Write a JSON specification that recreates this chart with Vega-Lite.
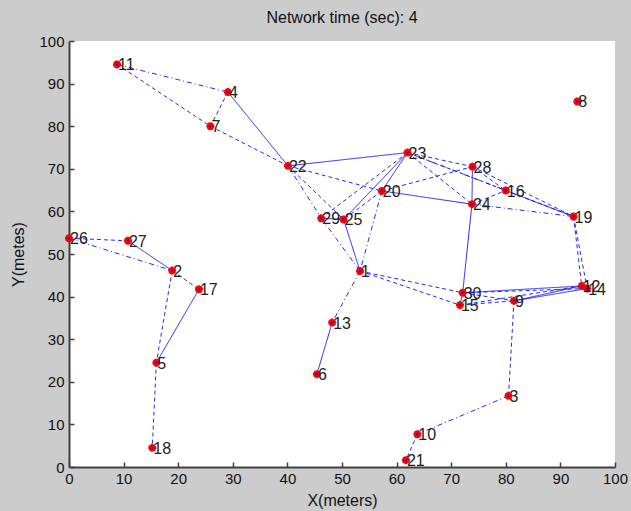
{
  "$schema": "https://vega.github.io/schema/vega-lite/v6.json",
  "width": 546,
  "height": 426,
  "autosize": {"type": "none"},
  "padding": {"left": 69, "top": 41, "right": 16, "bottom": 44},
  "background": "#cccccc",
  "title": {"text": "Network time (sec): 4", "font": "Liberation Sans", "fontSize": 16, "fontWeight": "normal", "color": "#111111", "offset": 8},
  "config": {
    "view": {"fill": "white", "stroke": null},
    "axis": {"domainColor": "#404040", "domainWidth": 2, "tickColor": "#404040", "tickWidth": 1.5, "tickSize": -5, "grid": false,
      "labelFont": "Liberation Sans", "labelFontSize": 15, "labelColor": "#111111",
      "titleFont": "Liberation Sans", "titleFontSize": 16, "titleFontWeight": "normal", "titleColor": "#111111"}
  },
  "datasets": {
    "nodes": [
      {"id": 1, "x": 53.3, "y": 46.0},
      {"id": 2, "x": 18.9, "y": 46.1},
      {"id": 3, "x": 80.5, "y": 16.7},
      {"id": 4, "x": 29.1, "y": 88.0},
      {"id": 5, "x": 16.0, "y": 24.5},
      {"id": 6, "x": 45.4, "y": 21.8},
      {"id": 7, "x": 25.9, "y": 80.0},
      {"id": 8, "x": 93.1, "y": 85.8},
      {"id": 9, "x": 81.5, "y": 39.0},
      {"id": 10, "x": 63.8, "y": 7.7},
      {"id": 11, "x": 8.8, "y": 94.5},
      {"id": 12, "x": 93.9, "y": 42.5},
      {"id": 13, "x": 48.2, "y": 33.9},
      {"id": 14, "x": 94.9, "y": 41.9},
      {"id": 15, "x": 71.6, "y": 38.0},
      {"id": 16, "x": 80.0, "y": 64.9},
      {"id": 17, "x": 23.8, "y": 41.7},
      {"id": 18, "x": 15.25, "y": 4.5},
      {"id": 19, "x": 92.4, "y": 58.8},
      {"id": 20, "x": 57.3, "y": 64.8},
      {"id": 21, "x": 61.7, "y": 1.6},
      {"id": 22, "x": 40.1, "y": 70.7},
      {"id": 23, "x": 62.0, "y": 73.8},
      {"id": 24, "x": 73.8, "y": 61.7},
      {"id": 25, "x": 50.3, "y": 58.1},
      {"id": 26, "x": 0.0, "y": 53.7},
      {"id": 27, "x": 10.8, "y": 53.1},
      {"id": 28, "x": 73.9, "y": 70.5},
      {"id": 29, "x": 46.2, "y": 58.4},
      {"id": 30, "x": 72.1, "y": 40.9}
    ],
    "edges": [
      {"s": 11, "t": 4, "style": "dashdot"},
      {"s": 11, "t": 7, "style": "dashed"},
      {"s": 4, "t": 7, "style": "dashed"},
      {"s": 4, "t": 22, "style": "solid"},
      {"s": 7, "t": 22, "style": "dashed"},
      {"s": 22, "t": 23, "style": "solid"},
      {"s": 22, "t": 20, "style": "dashed"},
      {"s": 22, "t": 29, "style": "dashdot"},
      {"s": 22, "t": 25, "style": "dashed"},
      {"s": 29, "t": 25, "style": "solid"},
      {"s": 29, "t": 1, "style": "dashdot"},
      {"s": 25, "t": 1, "style": "solid"},
      {"s": 20, "t": 1, "style": "dashdot"},
      {"s": 23, "t": 29, "style": "dashed"},
      {"s": 23, "t": 25, "style": "solid"},
      {"s": 20, "t": 25, "style": "dashed"},
      {"s": 23, "t": 20, "style": "solid"},
      {"s": 23, "t": 28, "style": "dashed"},
      {"s": 23, "t": 16, "style": "dashdot"},
      {"s": 23, "t": 19, "style": "dashed"},
      {"s": 23, "t": 24, "style": "dashed"},
      {"s": 20, "t": 28, "style": "dashed"},
      {"s": 20, "t": 24, "style": "solid"},
      {"s": 28, "t": 24, "style": "solid"},
      {"s": 28, "t": 16, "style": "dashed"},
      {"s": 28, "t": 19, "style": "dashed"},
      {"s": 24, "t": 16, "style": "dashed"},
      {"s": 24, "t": 19, "style": "dashdot"},
      {"s": 16, "t": 19, "style": "solid"},
      {"s": 24, "t": 30, "style": "solid"},
      {"s": 19, "t": 12, "style": "dashed"},
      {"s": 19, "t": 14, "style": "dashed"},
      {"s": 1, "t": 30, "style": "dashed"},
      {"s": 1, "t": 15, "style": "dashed"},
      {"s": 30, "t": 9, "style": "dashed"},
      {"s": 30, "t": 12, "style": "solid"},
      {"s": 30, "t": 14, "style": "dashed"},
      {"s": 15, "t": 9, "style": "dashed"},
      {"s": 15, "t": 12, "style": "dashed"},
      {"s": 9, "t": 12, "style": "solid"},
      {"s": 9, "t": 14, "style": "solid"},
      {"s": 30, "t": 15, "style": "solid"},
      {"s": 9, "t": 3, "style": "dashed"},
      {"s": 3, "t": 10, "style": "dashdot"},
      {"s": 10, "t": 21, "style": "dashed"},
      {"s": 1, "t": 13, "style": "dashdot"},
      {"s": 13, "t": 6, "style": "solid"},
      {"s": 26, "t": 27, "style": "dashed"},
      {"s": 26, "t": 2, "style": "dashdot"},
      {"s": 27, "t": 2, "style": "solid"},
      {"s": 2, "t": 17, "style": "dashed"},
      {"s": 2, "t": 5, "style": "dashed"},
      {"s": 17, "t": 5, "style": "solid"},
      {"s": 5, "t": 18, "style": "dashed"}
    ]
  },
  "layer": [
    {
      "data": {"name": "edges"},
      "transform": [
        {"lookup": "s", "from": {"data": {"name": "nodes"}, "key": "id", "fields": ["x", "y"]}, "as": ["sx", "sy"]},
        {"lookup": "t", "from": {"data": {"name": "nodes"}, "key": "id", "fields": ["x", "y"]}, "as": ["tx", "ty"]}
      ],
      "mark": {"type": "rule", "color": "#0000ff", "strokeWidth": 1, "opacity": 0.85},
      "encoding": {
        "x": {"field": "sx", "type": "quantitative", "scale": {"domain": [0, 100], "nice": false, "zero": false},
          "axis": {"values": [0,10,20,30,40,50,60,70,80,90,100], "title": "X(meters)", "labelPadding": 9, "titlePadding": 6, "labelFlush": false}},
        "y": {"field": "sy", "type": "quantitative", "scale": {"domain": [0, 100], "nice": false, "zero": false},
          "axis": {"values": [0,10,20,30,40,50,60,70,80,90,100], "title": "Y(metes)", "labelPadding": 10, "titlePadding": 12, "labelFlush": false}},
        "x2": {"field": "tx"},
        "y2": {"field": "ty"},
        "strokeDash": {"field": "style", "type": "nominal", "scale": {"domain": ["solid", "dashed", "dashdot"], "range": [[1, 0], [4, 3], [5, 3, 1, 3]]}, "legend": null}
      }
    },
    {
      "data": {"name": "nodes"},
      "mark": {"type": "point", "shape": "M-1,0L1,0M0,-1L0,1M-0.7,-0.7L0.7,0.7M-0.7,0.7L0.7,-0.7", "filled": false, "stroke": "#ff0000", "strokeWidth": 2.5, "size": 64, "opacity": 1},
      "encoding": {
        "x": {"field": "x", "type": "quantitative"},
        "y": {"field": "y", "type": "quantitative"}
      }
    },
    {
      "data": {"name": "nodes"},
      "mark": {"type": "point", "shape": "circle", "filled": true, "color": "#2020c0", "size": 6, "opacity": 1},
      "encoding": {
        "x": {"field": "x", "type": "quantitative"},
        "y": {"field": "y", "type": "quantitative"}
      }
    },
    {
      "data": {"name": "nodes"},
      "mark": {"type": "text", "align": "left", "baseline": "middle", "dx": 1, "dy": 1, "font": "Liberation Sans", "fontSize": 16, "color": "#222222"},
      "encoding": {
        "x": {"field": "x", "type": "quantitative"},
        "y": {"field": "y", "type": "quantitative"},
        "text": {"field": "id", "type": "nominal"}
      }
    }
  ]
}
